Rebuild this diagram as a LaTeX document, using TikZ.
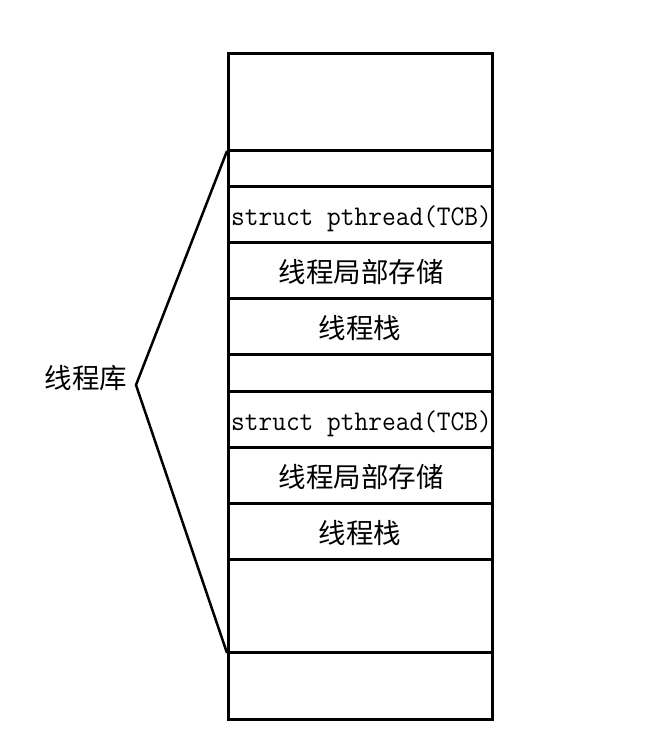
\documentclass[tikz,border=0pt]{standalone}
\usepackage{fontspec}
\newfontfamily\cjk{Noto Sans CJK SC}
\begin{document}
\begin{tikzpicture}[x=1pt,y=-1pt,
  frame/.style={line width=3pt},
  rowtext/.style={font=\cjk\fontsize{27.5}{30}\selectfont, inner sep=0pt},
  codetext/.style={font=\ttfamily\fontsize{28.5}{30}\selectfont, inner sep=0pt, anchor=base},
  brace/.style={line width=2.5pt}]
\useasboundingbox (0,0) rectangle (664,748);
% outer box
\draw[frame] (228,53) rectangle (492,719);
\foreach \yy in {150,186,242,298,354,391,447,503,559,652}
  \draw[frame] (228,\yy) -- (492,\yy);
% texts
\node[codetext] (tcbA) at (361.5,225) {\scalebox{0.935}[1]{struct pthread(TCB)}};
\node[rowtext] (tlsA) at (361,272) {线程局部存储};
\node[rowtext] (stkA) at (360,328) {线程栈};
\node[codetext] (tcbB) at (361.5,430) {\scalebox{0.935}[1]{struct pthread(TCB)}};
\node[rowtext] (tlsB) at (361,477) {线程局部存储};
\node[rowtext] (stkB) at (360,533) {线程栈};
% label
\node[rowtext] (lib) at (86,378) {线程库};
\coordinate (tip) at (136,385);
\coordinate (top) at (227,151);
\coordinate (bot) at (227,653);
\draw[brace, line join=miter] (top) -- (tip) -- (bot);
\end{tikzpicture}
\end{document}
